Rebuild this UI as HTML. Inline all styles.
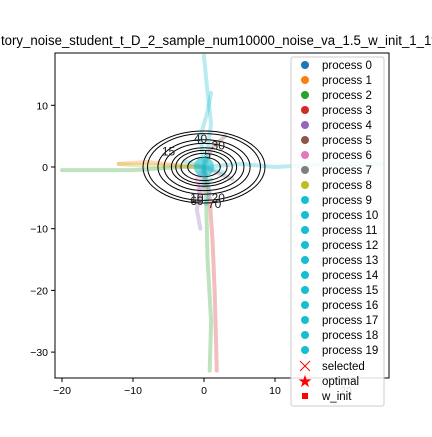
<!DOCTYPE html>
<html><head><meta charset="utf-8"><style>
body{margin:0;background:#fff;width:432px;height:432px;overflow:hidden}
svg{font-family:"Liberation Sans","DejaVu Sans",sans-serif}
</style></head><body>
<svg id="c" width="432" height="432" viewBox="0 0 432 432">
<text x="1" y="45" font-size="13.5" textLength="434" lengthAdjust="spacingAndGlyphs">tory_noise_student_t_D_2_sample_num10000_noise_va_1.5_w_init_1_1t</text>
<defs><clipPath id="clip"><rect x="55" y="53" width="334" height="325"/></clipPath></defs>
<g id="plot" clip-path="url(#clip)"></g>
<rect x="55" y="53" width="334" height="325" fill="none" stroke="#000" stroke-width="1"/>
<g id="axes"></g>
<g id="legend"></g>
</svg>
<script>
const xTicks=[-20,-10,0,10,20];
const yTicks=[10,0,-10,-20,-30];
const contourLevels=[5,10,15,20,30,40,60,70];
const contourLabels=[[0.5,2,"5"],[-1,-5,"10"],[-5,2.5,"15"],[2,-5,"20"],[2,3.5,"30"],[-0.5,4.5,"40"],[-1,-5.5,"60"],[1.5,-6,"70"]];
const procNames=["process 0","process 1","process 2","process 3","process 4","process 5","process 6","process 7","process 8","process 9","process 10","process 11","process 12","process 13","process 14","process 15","process 16","process 17","process 18","process 19"];
const procColors=["#1f77b4","#ff7f0e","#2ca02c","#d62728","#9467bd","#8c564b","#e377c2","#7f7f7f","#bcbd22","#17becf","#17becf","#17becf","#17becf","#17becf","#17becf","#17becf","#17becf","#17becf","#17becf","#17becf"];
const trajX=[[0,-3,-10,-20],[0,-4,-8,-12],[0,0.3,0.5,1,0.8],[0,0.8,1.2,1.5,1.8],[0,-0.5,-1,-0.5],[0,1,3],[0,-1,-0.5,0],[0,2,4],[0,-4,-10,-12],[0,0.5,1,0.5,0],[0,5,10,18,25],[0,-0.5,0.5,1],[0,0.8,0.3],[0,-3,3,0],[0,0,1]];
const trajY=[[0,0,-0.5,-0.5],[0,0.3,0.8,0.5],[0,-5,-15,-25,-33],[0,-5,-12,-20,-33],[0,-3,-7,-10],[0,3,5],[0,-2,-5,-3],[0,-1,-2],[0,0.2,0.3,0.5],[0,3,7,12,18],[0,0.5,0,0.5,0.5],[0,5,9,12],[0,-4,-6],[0,1,-1,0],[0,-3,-2]];
const trajC=[2,1,2,3,4,5,6,7,8,9,9,9,9,9,9];
const xs=v=>204+v*7.1, ys=v=>167-v*6.17;
const NS="http://www.w3.org/2000/svg";
function mk(t,a,p){const e=document.createElementNS(NS,t);for(const k in a)e.setAttribute(k,a[k]);p.appendChild(e);return e;}
const plot=document.getElementById('plot'),axes=document.getElementById('axes'),leg=document.getElementById('legend');
trajX.forEach((tx,i)=>{
 const pts=tx.map((x,j)=>xs(x)+','+ys(trajY[i][j])).join(' ');
 const pl=mk('polyline',{points:pts,fill:'none',stroke:procColors[trajC[i]],'stroke-width':4,'stroke-opacity':0.3,'stroke-linecap':'round'},plot);
 
 
});
contourLevels.forEach(l=>{
 const s=Math.sqrt(l/70);
 const e=mk('ellipse',{cx:xs(0),cy:ys(0),rx:61*s,ry:36*s,fill:'none',stroke:'#000','stroke-width':1},plot);
 
 
});
contourLabels.forEach(c=>{
 const t=mk('text',{x:xs(c[0]),y:ys(c[1])+4,'font-size':12,'text-anchor':'middle',fill:'#222'},plot);
 t.textContent=c[2];
 
 
});
const cl=mk('circle',{cx:xs(0),cy:ys(0),r:10,fill:'#17becf','fill-opacity':0.6},plot);


xTicks.forEach(v=>{
 mk('line',{x1:xs(v),x2:xs(v),y1:378,y2:382,stroke:'#000'},axes);
 const t=mk('text',{x:xs(v),y:394,'font-size':10.5,'text-anchor':'middle'},axes);
 t.textContent=v<0?'\u2212'+(-v):v;
 
 
});
yTicks.forEach(v=>{
 mk('line',{x1:51,x2:55,y1:ys(v),y2:ys(v),stroke:'#000'},axes);
 const t=mk('text',{x:48,y:ys(v)+4,'font-size':10.5,'text-anchor':'end'},axes);
 t.textContent=v<0?'\u2212'+(-v):v;
 
 
});
const lb=mk('rect',{x:291,y:57,width:93,height:349,rx:2,fill:'#fff','fill-opacity':0.85,stroke:'#ccc'},leg);


procNames.forEach((n,i)=>{
 const y=65+i*15;
 mk('circle',{cx:305,cy:y,r:4,fill:procColors[i]},leg);
 const t=mk('text',{x:322,y:y+4,'font-size':11.5},leg);
 t.textContent=n;
 
 
});
const extra=[["selected"],["optimal"],["w_init"]];
extra.forEach((e,i)=>{
 const y=366+i*15;
 if(i==0){mk('path',{d:`M300 ${y-5}L310 ${y+5}M310 ${y-5}L300 ${y+5}`,stroke:'red',fill:'none'},leg);}
 if(i==1){mk('text',{x:305,y:y+6,'font-size':17,'text-anchor':'middle',fill:'red'},leg).textContent='\u2605';}
 if(i==2){mk('rect',{x:302,y:y-3,width:6,height:6,fill:'red'},leg);}
 const t=mk('text',{x:322,y:y+4,'font-size':11.5},leg);
 t.textContent=e[0];
 
 
});
</script>
</body></html>
